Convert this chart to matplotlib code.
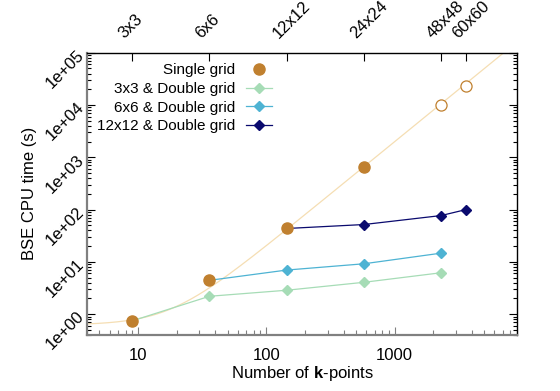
import numpy as np
import matplotlib
matplotlib.use('Agg')
import matplotlib.pyplot as plt
import matplotlib.transforms as mtrans
from matplotlib.ticker import LogLocator, NullFormatter, FixedLocator

plt.rcParams['font.family'] = ['Liberation Sans', 'DejaVu Sans']
plt.rcParams['mathtext.fontset'] = 'custom'
plt.rcParams['mathtext.rm'] = 'Liberation Sans'
plt.rcParams['mathtext.bf'] = 'Liberation Sans:bold'

# k-point grids and number of k-points
grid_labels = ['3x3', '6x6', '12x12', '24x24', '48x48', '60x60']
nk = [9, 36, 144, 576, 2304, 3600]

# single grid BSE timings (s); last two are estimates (open circles)
single_k = [9, 36, 144, 576]
single_t = [0.745, 4.44, 43.5, 660]
est_k = [2304, 3600]
est_t = [10000, 23000]

# double grid timings
dg3_k = [9, 36, 144, 576, 2304]
dg3_t = [0.745, 2.2, 2.87, 4.07, 6.2]
dg6_k = [36, 144, 576, 2304]
dg6_t = [4.44, 6.98, 9.2, 14.7]
dg12_k = [144, 576, 2304, 3600]
dg12_t = [43.5, 51.8, 76.9, 100]

c_single = '#c0802f'
c_fit = '#f5deb3'
c_3 = '#a6dcb6'
c_6 = '#4eb3d3'
c_12 = '#0a0a6e'

fig = plt.figure(figsize=(5.6, 3.91), dpi=100)
ax = fig.add_axes([87/560, 1-335/391, 430/560, (335-52.7)/391])

# fit t = a + c*N^2 to the single grid timings (relative weights)
kk = np.array(single_k + est_k, dtype=float)
tt = np.array(single_t + est_t, dtype=float)
A = np.column_stack([np.ones_like(kk), kk**2]) / tt[:, None]
a, c = np.linalg.lstsq(A, np.ones_like(tt), rcond=None)[0]
xs = np.geomspace(3, 10000, 400)
ax.plot(xs, a + c*xs**2, color=c_fit, lw=0.9, zorder=1)

ax.plot(dg3_k, dg3_t, color=c_3, lw=0.9, marker='D', ms=5.5, zorder=2,
        label='3x3 & Double grid')
ax.plot(dg6_k, dg6_t, color=c_6, lw=0.9, marker='D', ms=5.5, zorder=3,
        label='6x6 & Double grid')
ax.plot(dg12_k, dg12_t, color=c_12, lw=0.9, marker='D', ms=5.5, zorder=4,
        label='12x12 & Double grid')
ax.plot(single_k, single_t, ls='none', marker='o', ms=8, color=c_single, zorder=5,
        label='Single grid')
ax.plot(est_k, est_t, ls='none', marker='o', ms=8, mfc='white', mec=c_single,
        mew=0.9, zorder=5)

ax.set_xscale('log')
ax.set_yscale('log')
ax.set_xlim(4, 9000)
ax.set_ylim(0.4, 1e5)

for s in ['left', 'bottom']:
    ax.spines[s].set_color('#808080')
    ax.spines[s].set_linewidth(1.6)
for s in ['top', 'right']:
    ax.spines[s].set_color('black')
    ax.spines[s].set_linewidth(1.0)

ax.tick_params(axis='both', which='both', direction='in', labelsize=12)
ax.tick_params(axis='x', which='major', length=6, width=0.8, color='#808080', pad=9, top=False)
ax.tick_params(axis='x', which='minor', length=3.5, width=0.8, color='#808080', top=False)
ax.tick_params(axis='y', which='major', length=6, width=0.8, right=True, pad=4)
ax.tick_params(axis='y', which='minor', length=3, width=0.8, right=True)
ax.xaxis.set_major_locator(FixedLocator([10, 100, 1000]))
ax.set_xticklabels(['10', '100', '1000'])
ax.xaxis.set_minor_locator(LogLocator(base=10, subs=np.arange(2, 10)))
ax.xaxis.set_minor_formatter(NullFormatter())
yt = [1, 10, 100, 1e3, 1e4, 1e5]
ax.set_yticks(yt)
ax.set_yticklabels(['1e+00', '1e+01', '1e+02', '1e+03', '1e+04', '1e+05'])
ax.yaxis.set_minor_locator(LogLocator(base=10, subs=np.arange(2, 10)))
ax.yaxis.set_minor_formatter(NullFormatter())
for lab in ax.get_yticklabels():
    lab.set_rotation(45)
    lab.set_rotation_mode('anchor')
    lab.set_ha('right')
    lab.set_va('center')

top = ax.secondary_xaxis('top')
top.set_xticks(nk)
top.set_xticklabels(grid_labels)
top.xaxis.set_minor_locator(FixedLocator([]))
top.tick_params(axis='x', direction='in', length=6, width=0.8, labelsize=12, pad=8)
top.spines['top'].set_visible(False)
off = mtrans.ScaledTranslation(-6/100, 0, fig.dpi_scale_trans)
for lab in top.get_xticklabels():
    lab.set_rotation(45)
    lab.set_rotation_mode('anchor')
    lab.set_ha('left')
    lab.set_va('bottom')
    lab.set_transform(lab.get_transform() + off)

ax.set_xlabel('Number of $\\mathbf{k}$-points', fontsize=12, labelpad=1)
ax.set_ylabel('BSE CPU time (s)', fontsize=12, labelpad=4)

h, l = ax.get_legend_handles_labels()
order = [3, 0, 1, 2]
ax.legend([h[i] for i in order], [l[i] for i in order], loc='upper right',
          bbox_to_anchor=(0.43, 0.962), frameon=False, markerfirst=False,
          fontsize=11, handlelength=1.7, handletextpad=0.7, labelspacing=0.3,
          borderpad=0, borderaxespad=0)

fig.savefig('out.png', dpi=100)
